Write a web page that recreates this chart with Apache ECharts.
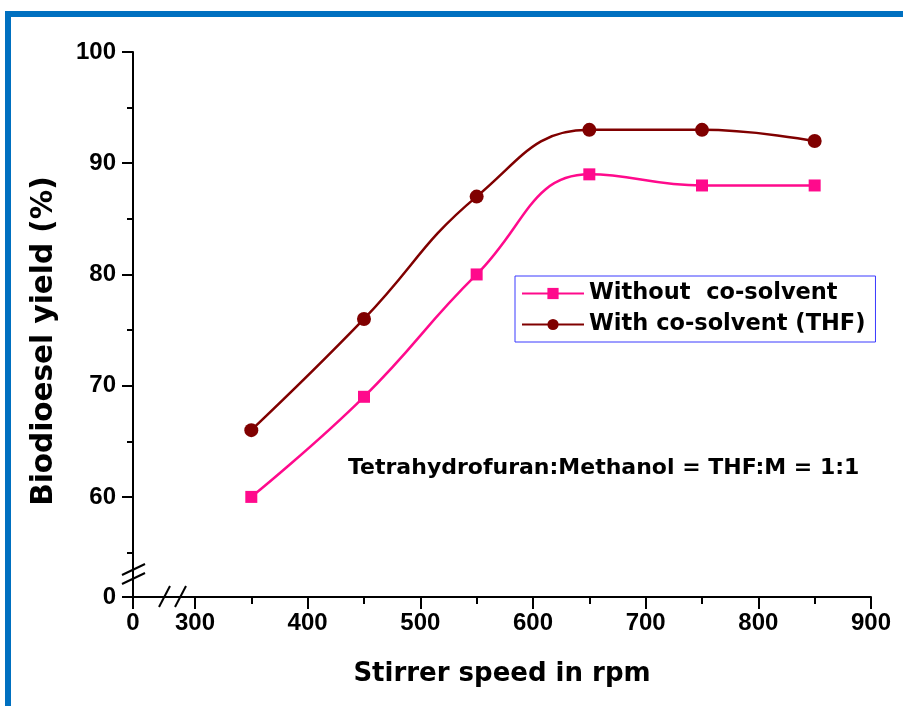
<!DOCTYPE html>
<html>
<head>
<meta charset="utf-8">
<script src="https://cdn.jsdelivr.net/npm/echarts@6/dist/echarts.min.js"></script>
<style>
  html, body { margin: 0; padding: 0; background: #fff; }
  #chart { width: 903px; height: 706px; }
</style>
</head>
<body>
<div id="chart"></div>
<script>
// stirrer speed (rpm) and yields (%)
var speeds = [350, 450, 550, 650, 750, 850];
var withoutCoSolvent = [60, 69, 80, 89, 88, 88];
var withTHF = [66, 76, 87, 93, 93, 92];

// broken axes: the axis start stands for 0
var xMin = 245, xMax = 900;
var yMin = 51, yMax = 100;
var xLabelValues = [245, 300, 400, 500, 600, 700, 800, 900];
var xMinorTicks = [350, 450, 550, 650, 750, 850];
var yLabelValues = [51, 60, 70, 80, 90, 100];
var yMinorTicks = [55, 65, 75, 85, 95];

var pinkColor = '#FF0A8C';
var darkColor = '#800000';
var tickFont = { color: '#000', fontSize: 24, fontWeight: 'bold', fontFamily: 'Liberation Sans' };
var textFamily = 'DejaVu Sans';

function pairs(xs, ys) {
    return xs.map(function (x, i) { return [x, ys[i]]; });
}

var chart = echarts.init(document.getElementById('chart'));

var option = {
    animation: false,
    backgroundColor: '#fff',
    grid: { left: 133, right: 32, top: 52, bottom: 109 },
    title: {
        text: 'Tetrahydrofuran:Methanol = THF:M = 1:1',
        left: 348,
        top: 457,
        padding: 0,
        textStyle: { color: '#000', fontSize: 22, fontWeight: 'bold', fontFamily: textFamily }
    },
    legend: {
        orient: 'vertical',
        left: 515,
        top: 276,
        padding: [6, 10, 6, 6],
        itemGap: 8,
        itemWidth: 62,
        itemHeight: 14,
        borderColor: '#3a3aff',
        borderWidth: 1,
        textStyle: { color: '#000', fontSize: 22.5, fontWeight: 'bold', fontFamily: textFamily },
        data: ['Without  co-solvent', 'With co-solvent (THF)']
    },
    xAxis: [
        {
            type: 'value',
            min: xMin,
            max: xMax,
            name: 'Stirrer speed in rpm',
            nameLocation: 'middle',
            nameGap: 64,
            nameTextStyle: { color: '#000', fontSize: 26, fontWeight: 'bold', fontFamily: textFamily },
            splitLine: { show: false },
            axisLine: { lineStyle: { color: '#000', width: 2 } },
            axisTick: { customValues: xLabelValues, length: 12, lineStyle: { color: '#000', width: 2 } },
            axisLabel: {
                customValues: xLabelValues,
                margin: 14,
                formatter: function (v) { return v === xMin ? '0' : String(v); },
                color: tickFont.color, fontSize: tickFont.fontSize,
                fontWeight: tickFont.fontWeight, fontFamily: tickFont.fontFamily
            }
        },
        {
            type: 'value',
            min: xMin,
            max: xMax,
            position: 'bottom',
            splitLine: { show: false },
            axisLine: { show: false },
            axisLabel: { show: false },
            axisTick: { customValues: xMinorTicks, length: 7, lineStyle: { color: '#000', width: 2 } }
        }
    ],
    yAxis: [
        {
            type: 'value',
            min: yMin,
            max: yMax,
            splitLine: { show: false },
            axisLine: { lineStyle: { color: '#000', width: 2 } },
            axisTick: { customValues: yLabelValues, length: 11, lineStyle: { color: '#000', width: 2 } },
            axisLabel: {
                customValues: yLabelValues,
                margin: 17,
                formatter: function (v) { return v === yMin ? '0' : String(v); },
                color: tickFont.color, fontSize: tickFont.fontSize,
                fontWeight: tickFont.fontWeight, fontFamily: tickFont.fontFamily
            }
        },
        {
            type: 'value',
            min: yMin,
            max: yMax,
            position: 'left',
            splitLine: { show: false },
            axisLine: { show: false },
            axisLabel: { show: false },
            axisTick: { customValues: yMinorTicks, length: 6, lineStyle: { color: '#000', width: 2 } }
        }
    ],
    series: [
        {
            name: 'Without  co-solvent',
            type: 'line',
            smooth: 0.45,
            symbol: 'rect',
            symbolSize: 12,
            itemStyle: { color: pinkColor },
            lineStyle: { color: pinkColor, width: 2.5 },
            data: pairs(speeds, withoutCoSolvent)
        },
        {
            name: 'With co-solvent (THF)',
            type: 'line',
            smooth: 0.45,
            symbol: 'circle',
            symbolSize: 14,
            itemStyle: { color: darkColor },
            lineStyle: { color: darkColor, width: 2.5 },
            data: pairs(speeds, withTHF)
        }
    ]
};
chart.setOption(option);

// frame, y-axis title and axis break marks
var origin = chart.convertToPixel({ xAxisIndex: 0, yAxisIndex: 0 }, [xMin, yMin]);
var ax = origin[0], ay = origin[1];
var yb = ay - 23;   // centre of y-axis break
var xb = ax + 39;   // centre of x-axis break
var breakStyle = { stroke: '#000', lineWidth: 2 };

chart.setOption({
    graphic: [
        { type: 'rect', shape: { x: 5, y: 11, width: 898, height: 6 }, style: { fill: '#0070C0' } },
        { type: 'rect', shape: { x: 5, y: 11, width: 6, height: 695 }, style: { fill: '#0070C0' } },
        {
            type: 'text', x: 44, y: 341, rotation: Math.PI / 2,
            style: {
                text: 'Biodioesel yield (%)', align: 'center', verticalAlign: 'middle',
                fill: '#000', fontSize: 29.5, fontWeight: 'bold', fontFamily: textFamily
            }
        },
        // y break
        { type: 'polygon', shape: { points: [[ax - 11, yb + 1], [ax + 12, yb - 10], [ax + 12, yb - 1], [ax - 11, yb + 10]] }, style: { fill: '#fff' } },
        { type: 'line', shape: { x1: ax - 11, y1: yb + 1, x2: ax + 12, y2: yb - 10 }, style: breakStyle },
        { type: 'line', shape: { x1: ax - 11, y1: yb + 10, x2: ax + 12, y2: yb - 1 }, style: breakStyle },
        // x break
        { type: 'polygon', shape: { points: [[xb - 13, ay + 10], [xb - 2, ay - 11], [xb + 14, ay - 11], [xb + 3, ay + 10]] }, style: { fill: '#fff' } },
        { type: 'line', shape: { x1: xb - 13, y1: ay + 10, x2: xb - 2, y2: ay - 11 }, style: breakStyle },
        { type: 'line', shape: { x1: xb + 3, y1: ay + 10, x2: xb + 14, y2: ay - 11 }, style: breakStyle }
    ]
});
</script>
</body>
</html>
